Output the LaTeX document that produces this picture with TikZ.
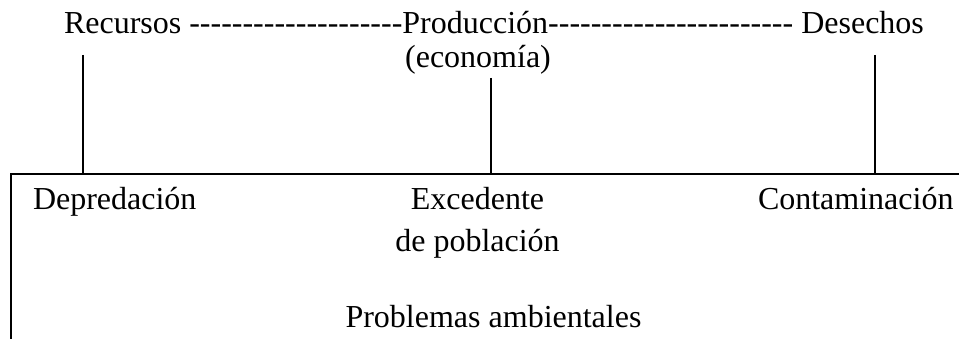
\documentclass[tikz,border=0pt]{standalone}
\usepackage{fontspec}
\setmainfont{Liberation Serif}[Ligatures=TeXOff]
\begin{document}
\begin{tikzpicture}[x=1pt,y=-1pt,
  txt/.style={inner sep=0pt,outer sep=0pt,font=\fontsize{32}{37}\selectfont},
  ln/.style={line width=1.4pt}]
\useasboundingbox (0,0) rectangle (959,339);
% top line
\node[txt,anchor=base west] (rec) at (64,34) {Recursos};
\node[txt,anchor=base west] (d1) at (rec.base east) {\ -{}-{}-{}-{}-{}-{}-{}-{}-{}-{}-{}-{}-{}-{}-{}-{}-{}-{}-{}-};
\node[txt,anchor=base west] (prod) at (d1.base east) {Producción};
\node[txt,anchor=base west] (d2) at (prod.base east) {-{}-{}-{}-{}-{}-{}-{}-{}-{}-{}-{}-{}-{}-{}-{}-{}-{}-{}-{}-{}-{}-{}-\ \null};
\node[txt,anchor=base west] (des) at (d2.base east) {Desechos};
\node[txt,anchor=base] (eco) at (478,68) {(economía)};
% lower texts
\node[txt,anchor=base west] (dep) at (33,210) {Depredación};
\node[txt,anchor=base] (exc) at (477.5,210) {Excedente};
\node[txt,anchor=base] (pob) at (477.5,252) {de población};
\node[txt,anchor=base west] (con) at (758,210) {Contaminación};
\node[txt,anchor=base] (pa) at (493.5,327) {Problemas ambientales};
% coordinates
\coordinate (t1) at (83,55);
\coordinate (b1) at (83,174);
\coordinate (t2) at (491,78);
\coordinate (b2) at (491,174);
\coordinate (t3) at (875,55);
\coordinate (b3) at (875,174);
\coordinate (hl) at (11,174);
\coordinate (hr) at (959,174);
\coordinate (vb) at (11,339);
\draw[ln] (t1) -- (b1);
\draw[ln] (t2) -- (b2);
\draw[ln] (t3) -- (b3);
\draw[ln] (hr) -- (hl) -- (vb);
\end{tikzpicture}
\end{document}
